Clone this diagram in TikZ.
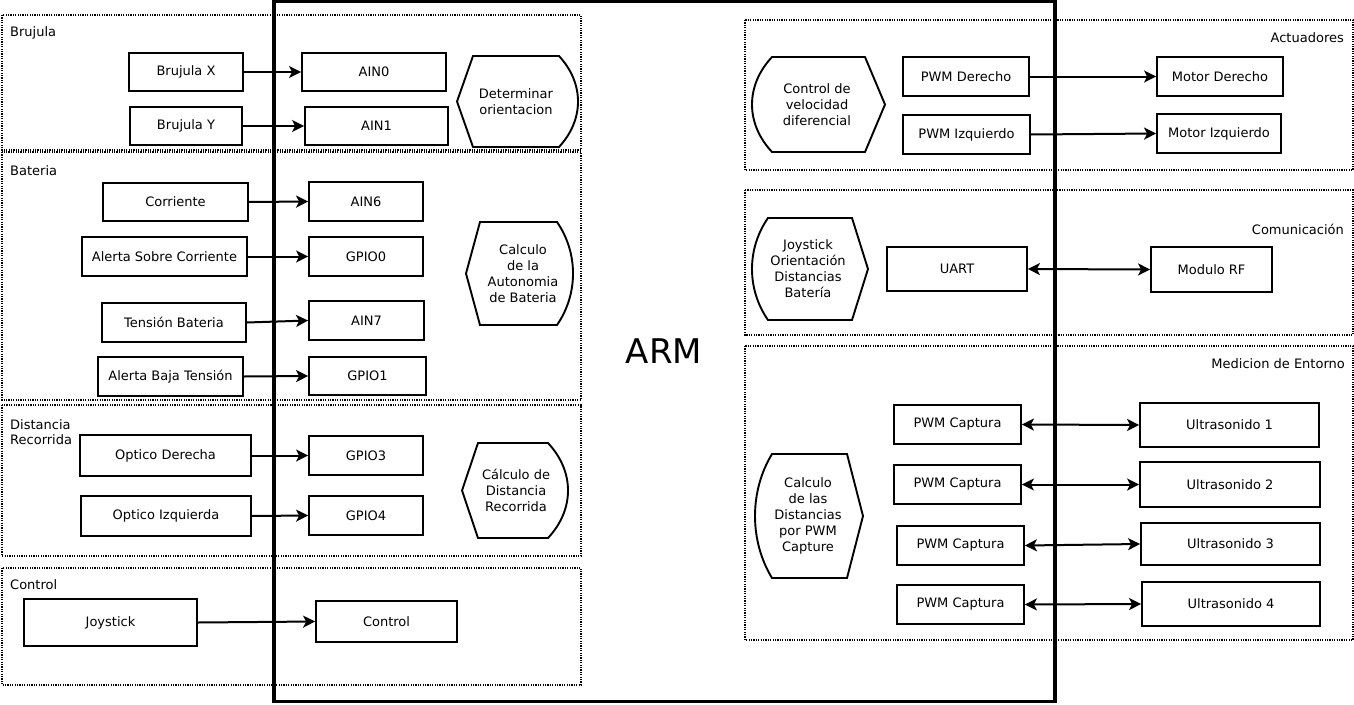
\documentclass[tikz,border=0pt]{standalone}
\usepackage{fontspec}
\setmainfont{DejaVu Sans}
\usetikzlibrary{arrows.meta}
\tikzset{
  every node/.style={font=\fontsize{13pt}{16pt}\selectfont},
  box/.style={draw=black, line width=1.8pt, fill=white, inner sep=0pt, align=center},
  grp/.style={draw=black, dash pattern=on 1.2pt off 1.2pt, line width=1.3pt},
  shp/.style={draw=black, line width=1.9pt},
  arr/.style={line width=2pt, -{Stealth[length=12pt,width=12pt,inset=3pt]}},
  darr/.style={line width=2pt, {Stealth[length=12pt,width=12pt,inset=3pt]}-{Stealth[length=12pt,width=12pt,inset=3pt]}},
  lbl/.style={inner sep=0pt, align=left},
}
% box: name, cx, cy, w, h, text
\newcommand{\bx}[6]{\node[box, minimum width=#4pt, minimum height=#5pt] (#1) at (#2,#3) {#6};}
% left-pointed, right-curved shape: name,x0,y0,x1,y1,a,b,tx,text
\newcommand{\hexL}[9]{%
  \draw[shp] (#2,{(#3+#5)/2}) -- ({#2+#6},#3) -- ({#4-#7},#3)
    .. controls ({#4+#7/3},{#3+(#5-#3)*0.3}) and ({#4+#7/3},{#5-(#5-#3)*0.3}) .. ({#4-#7},#5)
    -- ({#2+#6},#5) -- cycle;
  \node[align=center, inner sep=0pt] (#1) at (#8,{(#3+#5)/2}) {#9};}
% left-curved, right-pointed shape
\newcommand{\hexR}[9]{%
  \draw[shp] (#4,{(#3+#5)/2}) -- ({#4-#7},#3) -- ({#2+#6},#3)
    .. controls ({#2-#6/3},{#3+(#5-#3)*0.3}) and ({#2-#6/3},{#5-(#5-#3)*0.3}) .. ({#2+#6},#5)
    -- ({#4-#7},#5) -- cycle;
  \node[align=center, inner sep=0pt] (#1) at (#8,{(#3+#5)/2}) {#9};}
\begin{document}
\begin{tikzpicture}[x=1pt, y=-1pt]
\useasboundingbox (0,0) rectangle (1354,704);
% groups
\draw[grp] (2,15) rectangle (581,150);
\draw[grp] (2,152) rectangle (581,400);
\draw[grp] (2,405) rectangle (581,556);
\draw[grp] (2,568) rectangle (581,685);
\draw[grp] (745,20) rectangle (1353,170);
\draw[grp] (745,190) rectangle (1353,335);
\draw[grp] (745,346) rectangle (1353,640);
\node[lbl, anchor=west] (gBru) at (10,33) {Brujula};
\node[lbl, anchor=west] (gBat) at (10,171) {Bateria};
\node[lbl, anchor=north west, font=\fontsize{13pt}{15pt}\selectfont] (gDis) at (10,419) {Distancia\\Recorrida};
\node[lbl, anchor=west] (gCtl) at (10,585) {Control};
\node[lbl, anchor=east] (gAct) at (1344,38) {Actuadores};
\node[lbl, anchor=east] (gCom) at (1344,229) {Comunicación};
\node[lbl, anchor=east] (gMed) at (1345,364) {Medicion de Entorno};
% ARM
\draw[line width=3.5pt] (274,1.5) rectangle (1055,701.5);
\node[font=\fontsize{34pt}{40pt}\selectfont] (arm) at (664,351) {ARM};
% left boxes
\bx{bx}{186}{72}{114}{38}{Brujula X}
\bx{by}{186}{126}{112}{38}{Brujula Y}
\bx{ain0}{374}{72}{144}{38}{AIN0}
\bx{ain1}{376.5}{126}{143}{38}{AIN1}
\bx{corr}{175.5}{202}{145}{38}{Corriente}
\bx{ain6}{366}{201.5}{114}{39}{AIN6}
\bx{asc}{164.5}{256.5}{165}{39}{Alerta Sobre Corriente}
\bx{gpio0}{366}{256.5}{114}{39}{GPIO0}
\bx{tens}{174}{322.5}{144}{39}{Tensión Bateria}
\bx{ain7}{366.5}{320.5}{115}{39}{AIN7}
\bx{abt}{170.5}{376.5}{145}{39}{Alerta Baja Tensión}
\bx{gpio1}{367.5}{376}{117}{38}{GPIO1}
\bx{optd}{165.5}{455.5}{171}{41}{Optico Derecha}
\bx{gpio3}{366}{455.5}{114}{39}{GPIO3}
\bx{opti}{166}{516}{170}{40}{Optico Izquierda}
\bx{gpio4}{366}{515.5}{114}{39}{GPIO4}
\bx{joy}{110.5}{622.5}{173}{47}{Joystick}
\bx{ctrl}{386.5}{621.5}{141}{41}{Control}
% left shapes
\hexL{det}{457}{56}{578}{147}{16}{19}{516}{Determinar\\orientacion}
\hexL{aut}{466}{222}{573}{325}{14}{16}{523}{Calculo\\de la\\Autonomia\\de Bateria}
\hexL{cdr}{462}{443}{568}{538}{16}{20}{516}{Cálculo de\\Distancia\\Recorrida}
% right boxes
\bx{pwmd}{966}{76.5}{126}{39}{PWM Derecho}
\bx{pwmi}{966.5}{134.5}{127}{39}{PWM Izquierdo}
\bx{motd}{1220}{76.5}{126}{39}{Motor Derecho}
\bx{moti}{1219}{133.5}{124}{39}{Motor Izquierdo}
\bx{uart}{957}{269}{140}{44}{UART}
\bx{rf}{1211.5}{269.5}{121}{45}{Modulo RF}
\bx{pc1}{957.5}{424.5}{127}{39}{PWM Captura}
\bx{pc2}{957.5}{484.5}{127}{39}{PWM Captura}
\bx{pc3}{960.5}{545.5}{127}{39}{PWM Captura}
\bx{pc4}{960.5}{604.5}{127}{39}{PWM Captura}
\bx{us1}{1229.5}{425}{179}{44}{Ultrasonido 1}
\bx{us2}{1230}{484.5}{180}{45}{Ultrasonido 2}
\bx{us3}{1230.5}{544}{179}{42}{Ultrasonido 3}
\bx{us4}{1231}{604}{178}{44}{Ultrasonido 4}
% right shapes
\hexR{cvd}{752}{57}{885}{152}{20}{20}{817}{Control de\\velocidad\\diferencial}
\hexR{jod}{752}{218}{868}{320}{16}{16}{808}{Joystick\\Orientación\\Distancias\\Batería}
\hexR{cdd}{755}{454}{863}{578}{17}{16}{808}{Calculo\\de las\\Distancias\\por PWM\\Capture}
% connectors
\draw[arr] (bx.east) -- (ain0.west);
\draw[arr] (by.east) -- (ain1.west);
\draw[arr] (corr.east) -- (ain6.west);
\draw[arr] (asc.east) -- (gpio0.west);
\draw[arr] (tens.east) -- (ain7.west);
\draw[arr] (abt.east) -- (gpio1.west);
\draw[arr] (optd.east) -- (gpio3.west);
\draw[arr] (opti.east) -- (gpio4.west);
\draw[arr] (joy.east) -- (ctrl.west);
\draw[arr] (pwmd.east) -- (motd.west);
\draw[arr] (pwmi.east) -- (moti.west);
\draw[darr] (uart.east) -- (rf.west);
\draw[darr] (pc1.east) -- (us1.west);
\draw[darr] (pc2.east) -- (us2.west);
\draw[darr] (pc3.east) -- (us3.west);
\draw[darr] (pc4.east) -- (us4.west);
\end{tikzpicture}
\end{document}
